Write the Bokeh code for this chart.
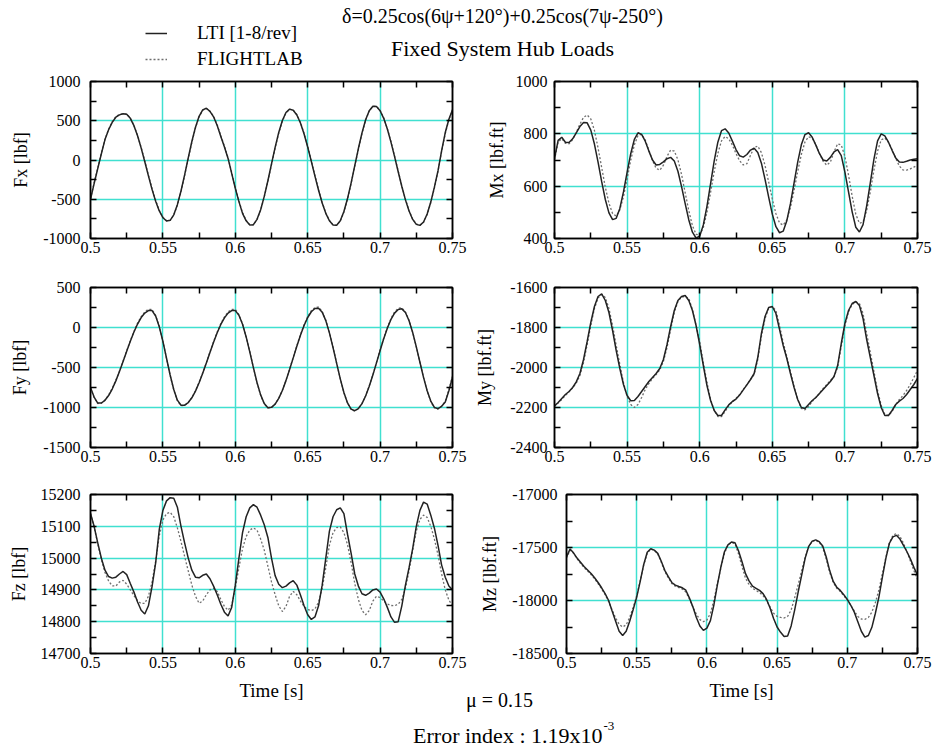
import numpy as np
from bokeh.plotting import figure
from bokeh.layouts import column, row
from bokeh.models import (Range1d, LinearAxis, SingleIntervalTicker, CustomJSTickFormatter,
                          Label, Legend, LegendItem, Grid)
from bokeh.embed import file_html
from bokeh.resources import INLINE

# ---------------- data ----------------
t = np.round(np.linspace(0.5, 0.75, 101), 5)    # time [s], 0.0025 s sampling

fx_lti = [-500, -300, -110, 80, 260, 385, 480, 545, 575, 588,
          582, 531, 437, 308, 151, -23, -202, -374, -526, -649,
          -735, -776, -768, -698, -569, -395, -190, 27, 236, 418,
          557, 639, 659, 620, 550, 440, 300, 165, 20, -170,
          -360, -530, -680, -775, -828, -824, -756, -633, -464, -264,
          -49, 161, 351, 503, 605, 648, 634, 574, 471, 331,
          166, -17, -205, -385, -547, -679, -774, -827, -830, -773,
          -657, -491, -291, -72, 146, 346, 512, 628, 685, 681,
          628, 531, 394, 228, 43, -150, -337, -508, -650, -757,
          -820, -833, -790, -688, -536, -346, -136, 120, 350, 520,
          640]
fx_fl = [-495, -292, -100, 88, 265, 392, 490, 552, 580, 590,
         585, 535, 440, 314, 160, -12, -190, -362, -515, -640,
         -730, -774, -770, -703, -575, -403, -200, 15, 225, 408,
         550, 634, 655, 622, 555, 448, 310, 175, 30, -160,
         -350, -520, -670, -768, -825, -826, -760, -640, -470, -272,
         -60, 150, 340, 495, 600, 646, 636, 580, 478, 340,
         175, -8, -195, -376, -540, -675, -770, -826, -832, -778,
         -665, -500, -300, -82, 135, 336, 505, 624, 682, 683,
         632, 537, 400, 236, 52, -140, -328, -500, -642, -752,
         -815, -833, -795, -695, -545, -356, -145, 110, 335, 510,
         632]

fy_lti = [-750, -870, -945, -944, -910, -851, -769, -667, -551, -426,
          -298, -173, -57, 43, 124, 181, 211, 211, 144, 9,
          -174, -384, -594, -775, -908, -972, -971, -938, -879, -795,
          -691, -572, -444, -312, -184, -65, 38, 120, 180, 211,
          211, 154, 41, -118, -304, -501, -687, -842, -951, -1003,
          -998, -958, -886, -787, -664, -526, -380, -235, -97, 25,
          125, 197, 237, 242, 192, 86, -67, -251, -449, -642,
          -813, -943, -1020, -1040, -1013, -951, -856, -735, -595, -442,
          -288, -140, -8, 101, 180, 226, 233, 187, 85, -62,
          -242, -434, -624, -790, -919, -998, -1015, -985, -930, -790,
          -620]
fy_fl = [-760, -875, -950, -948, -905, -845, -760, -660, -545, -420,
         -290, -165, -50, 55, 135, 195, 228, 225, 150, 15,
         -170, -385, -600, -780, -915, -976, -975, -940, -875, -790,
         -685, -565, -440, -305, -175, -55, 50, 132, 195, 225,
         225, 162, 45, -115, -300, -502, -690, -848, -955, -1006,
         -1000, -958, -885, -784, -660, -520, -375, -228, -90, 35,
         135, 210, 250, 256, 200, 92, -60, -246, -445, -640,
         -815, -946, -1025, -1045, -1015, -950, -852, -730, -590, -436,
         -280, -132, 0, 112, 195, 240, 245, 195, 90, -60,
         -240, -435, -625, -795, -925, -1005, -1020, -980, -925, -780,
         -600]

mx_lti = [705, 775, 787, 768, 767, 781, 804, 828, 843, 842,
          814, 761, 692, 617, 549, 498, 472, 477, 515, 578,
          653, 724, 779, 804, 798, 772, 734, 700, 681, 683,
          693, 705, 710, 696, 657, 598, 533, 471, 424, 402,
          409, 452, 523, 610, 697, 768, 812, 819, 803, 772,
          740, 716, 711, 721, 738, 745, 729, 688, 626, 558,
          493, 445, 422, 428, 468, 533, 613, 692, 758, 797,
          804, 787, 757, 724, 700, 696, 710, 731, 740, 717,
          654, 578, 502, 443, 425, 453, 525, 613, 703, 773,
          800, 792, 768, 737, 708, 692, 691, 695, 700, 703,
          705]
mx_fl = [700, 769, 781, 764, 762, 778, 806, 837, 863, 872,
         857, 813, 746, 671, 596, 535, 495, 486, 509, 560,
         628, 699, 758, 794, 798, 776, 738, 698, 668, 661,
         680, 714, 738, 734, 701, 645, 575, 506, 449, 416,
         413, 442, 500, 576, 656, 725, 773, 790, 781, 757,
         725, 697, 681, 686, 718, 748, 753, 728, 679, 616,
         551, 495, 459, 451, 471, 519, 584, 656, 721, 769,
         789, 783, 758, 725, 695, 680, 692, 731, 762, 757,
         714, 642, 562, 493, 458, 463, 507, 578, 661, 734,
         777, 784, 768, 739, 706, 677, 662, 661, 666, 673,
         680]

my_lti = [-2192, -2175, -2155, -2135, -2120, -2100, -2072, -2030, -1960, -1870,
          -1775, -1695, -1645, -1632, -1665, -1725, -1815, -1915, -2005, -2085,
          -2140, -2166, -2165, -2145, -2120, -2095, -2070, -2050, -2030, -2005,
          -1960, -1885, -1795, -1715, -1665, -1645, -1640, -1665, -1715, -1790,
          -1885, -1990, -2090, -2165, -2215, -2240, -2240, -2212, -2187, -2170,
          -2158, -2138, -2112, -2087, -2060, -2030, -1950, -1830, -1745, -1700,
          -1695, -1730, -1810, -1890, -1955, -2030, -2100, -2160, -2200, -2205,
          -2185, -2165, -2150, -2130, -2110, -2090, -2070, -2045, -1990, -1880,
          -1780, -1715, -1680, -1670, -1690, -1755, -1860, -1950, -2040, -2130,
          -2200, -2240, -2240, -2215, -2185, -2168, -2155, -2135, -2110, -2085,
          -2055]
my_fl = [-2195, -2178, -2160, -2140, -2122, -2102, -2078, -2040, -1975, -1885,
         -1790, -1705, -1652, -1635, -1650, -1705, -1790, -1890, -1985, -2075,
         -2145, -2185, -2200, -2185, -2150, -2110, -2080, -2055, -2035, -2012,
         -1970, -1900, -1810, -1725, -1670, -1648, -1645, -1655, -1710, -1790,
         -1870, -1975, -2075, -2160, -2215, -2245, -2245, -2220, -2192, -2172,
         -2155, -2135, -2110, -2085, -2060, -2035, -1960, -1845, -1755, -1705,
         -1695, -1715, -1790, -1875, -1945, -2020, -2095, -2160, -2205, -2212,
         -2195, -2170, -2150, -2128, -2105, -2085, -2065, -2045, -2000, -1895,
         -1790, -1722, -1685, -1672, -1680, -1730, -1830, -1925, -2020, -2115,
         -2190, -2235, -2240, -2220, -2185, -2160, -2140, -2115, -2085, -2050,
         -2015]

fz_lti = [15140, 15100, 15048, 15000, 14962, 14942, 14937, 14940, 14950, 14958,
          14948, 14920, 14893, 14862, 14836, 14824, 14850, 14910, 14985, 15090,
          15150, 15180, 15190, 15188, 15160, 15100, 15048, 15000, 14962, 14940,
          14938, 14946, 14950, 14935, 14912, 14885, 14855, 14830, 14818, 14845,
          14915, 15000, 15080, 15130, 15158, 15168, 15160, 15135, 15105, 15065,
          15000, 14945, 14918, 14907, 14912, 14922, 14929, 14915, 14884, 14850,
          14822, 14807, 14815, 14850, 14915, 15000, 15085, 15130, 15152, 15158,
          15140, 15075, 15015, 14950, 14912, 14888, 14883, 14890, 14900, 14903,
          14893, 14872, 14845, 14815, 14798, 14800, 14850, 14915, 14970, 15030,
          15100, 15150, 15176, 15170, 15135, 15094, 15040, 14978, 14940, 14912,
          14900]
fz_fl = [15140, 15098, 15045, 14995, 14955, 14928, 14913, 14912, 14925, 14930,
         14918, 14900, 14882, 14866, 14857, 14858, 14880, 14925, 14990, 15070,
         15120, 15140, 15144, 15130, 15095, 15052, 15005, 14960, 14915, 14880,
         14858, 14865, 14885, 14900, 14905, 14895, 14870, 14848, 14836, 14852,
         14905, 14970, 15030, 15068, 15088, 15095, 15088, 15060, 15025, 14975,
         14925, 14885, 14850, 14832, 14848, 14880, 14895, 14885, 14865, 14848,
         14838, 14835, 14840, 14862, 14905, 14970, 15040, 15080, 15096, 15098,
         15080, 15042, 14985, 14920, 14870, 14835, 14822, 14835, 14865, 14880,
         14876, 14865, 14856, 14851, 14850, 14855, 14870, 14905, 14960, 15025,
         15085, 15122, 15135, 15128, 15100, 15060, 15010, 14950, 14900, 14868,
         14850]

mz_lti = [-17590, -17515, -17550, -17600, -17640, -17680, -17712, -17745, -17785, -17830,
          -17880, -17935, -18000, -18100, -18195, -18290, -18330, -18290, -18195, -18085,
          -17968, -17820, -17660, -17545, -17512, -17525, -17555, -17630, -17715, -17775,
          -17830, -17855, -17868, -17880, -17903, -17975, -18060, -18160, -18240, -18282,
          -18260, -18190, -18040, -17850, -17680, -17540, -17475, -17448, -17455, -17530,
          -17635, -17747, -17815, -17865, -17885, -17905, -17935, -17990, -18070, -18170,
          -18250, -18300, -18340, -18335, -18240, -18090, -17920, -17760, -17600, -17490,
          -17440, -17428, -17445, -17485, -17590, -17720, -17820, -17875, -17905, -17945,
          -17990, -18045, -18110, -18200, -18290, -18345, -18330, -18253, -18120, -17968,
          -17780, -17600, -17460, -17400, -17385, -17420, -17480, -17540, -17610, -17690,
          -17760]
mz_fl = [-17600, -17525, -17555, -17605, -17650, -17690, -17722, -17755, -17795, -17840,
         -17890, -17945, -18010, -18090, -18165, -18225, -18250, -18230, -18160, -18065,
         -17955, -17815, -17665, -17555, -17515, -17525, -17560, -17640, -17725, -17785,
         -17840, -17865, -17878, -17892, -17920, -17985, -18060, -18130, -18180, -18200,
         -18185, -18120, -17995, -17840, -17690, -17555, -17480, -17452, -17465, -17560,
         -17680, -17790, -17850, -17885, -17905, -17925, -17955, -18000, -18060, -18120,
         -18150, -18160, -18165, -18150, -18090, -17975, -17850, -17720, -17590, -17490,
         -17445, -17432, -17450, -17500, -17610, -17735, -17830, -17885, -17915, -17955,
         -17995, -18045, -18100, -18150, -18175, -18178, -18160, -18110, -18020, -17900,
         -17745, -17590, -17455, -17385, -17368, -17395, -17460, -17540, -17630, -17720,
         -17800]

# ---------------- styling ----------------
FONT = "Liberation Serif"
GRID = "#40E0D0"
LTI_COLOR = "#222222"
FL_COLOR = "#6e6e6e"

XFMT = "var s = tick.toFixed(2); if (s.slice(-1) === '0') { s = s.slice(0, -1); } return s;"
YFMT = "return String(Math.round(tick));"
NOFMT = "return '';"


def style_axis(ax, show_labels, standoff):
    ax.axis_line_color = "black"
    ax.axis_line_width = 1.5
    ax.major_tick_in = 0
    ax.major_tick_out = 0
    ax.minor_tick_in = 6
    ax.minor_tick_out = 0
    ax.minor_tick_line_color = "black"
    ax.minor_tick_line_width = 1.5
    ax.major_label_text_font = FONT
    if show_labels:
        ax.major_label_text_color = "black"
        ax.major_label_text_font_size = "16px"
    else:
        ax.major_label_text_color = None
        ax.major_label_text_font_size = "1px"
    ax.major_label_standoff = standoff


def panel(lti, fl, ylabel, yrange, yint, width, height, bl, br, bt, bb,
          ystand, ylab_stand):
    p = figure(width=width, height=height, x_range=Range1d(0.5, 0.75),
               y_range=Range1d(*yrange), output_backend="svg", toolbar_location=None,
               x_axis_type=None, y_axis_type=None,
               min_border_left=bl, min_border_right=br, min_border_top=bt, min_border_bottom=bb)
    p.outline_line_color = "black"
    p.outline_line_width = 1.5

    xt = SingleIntervalTicker(interval=0.05, num_minor_ticks=2)
    yt = SingleIntervalTicker(interval=yint, num_minor_ticks=2)

    p.add_layout(Grid(dimension=0, ticker=xt, grid_line_color=GRID, grid_line_width=1.5))
    p.add_layout(Grid(dimension=1, ticker=yt, grid_line_color=GRID, grid_line_width=1.5))

    xb = LinearAxis(ticker=xt, formatter=CustomJSTickFormatter(code=XFMT))
    style_axis(xb, True, 3)
    p.add_layout(xb, "below")
    xa = LinearAxis(ticker=xt, formatter=CustomJSTickFormatter(code=NOFMT))
    style_axis(xa, False, 0)
    p.add_layout(xa, "above")

    yl = LinearAxis(ticker=yt, formatter=CustomJSTickFormatter(code=YFMT))
    style_axis(yl, True, ystand)
    yl.axis_label = ylabel
    yl.axis_label_text_font = FONT
    yl.axis_label_text_font_style = "normal"
    yl.axis_label_text_font_size = "18px"
    yl.axis_label_text_color = "black"
    yl.axis_label_standoff = ylab_stand
    p.add_layout(yl, "left")
    yr = LinearAxis(ticker=yt, formatter=CustomJSTickFormatter(code=NOFMT))
    style_axis(yr, False, 0)
    p.add_layout(yr, "right")

    p.line(t, fl, line_color=FL_COLOR, line_width=1.3, line_dash="2 2")
    p.line(t, lti, line_color=LTI_COLOR, line_width=1.5)
    return p


# row 1
p_fx = panel(fx_lti, fx_fl, "Fx [lbf]", (-1000, 1000), 500, 470, 202, 90, 18, 11, 34, 10, 9)
p_mx = panel(mx_lti, mx_fl, "Mx [lbf.ft]", (400, 1000), 200, 471, 202, 84, 24, 11, 34, 7, 6)
# row 2
p_fy = panel(fy_lti, fy_fl, "Fy [lbf]", (-1500, 500), 500, 470, 208, 90, 18, 15, 33, 10, 10)
p_my = panel(my_lti, my_fl, "My [lbf.ft]", (-2400, -1600), 200, 471, 208, 84, 24, 15, 33, 7, 12)
# row 3
p_fz = panel(fz_lti, fz_fl, "Fz [lbf]", (14700, 15200), 100, 470, 200, 90, 18, 14, 27, 10, 9)
p_mz = panel(mz_lti, mz_fl, "Mz [lbf.ft]", (-18500, -17000), 500, 471, 200, 96, 24, 14, 27, 9, 9)

# header: titles + legend
HH = 70
hdr = figure(width=941, height=HH, x_range=Range1d(0, 941), y_range=Range1d(HH, 0),
             output_backend="svg", toolbar_location=None, x_axis_type=None, y_axis_type=None,
             min_border=0, outline_line_color=None)
hdr.add_layout(Label(x=502, y=15, text="\u03b4=0.25cos(6\u03c8+120\u00b0)+0.25cos(7\u03c8-250\u00b0)",
                     text_align="center", text_baseline="middle", text_font=FONT,
                     text_font_size="20px", text_color="black"))
hdr.add_layout(Label(x=502, y=48, text="Fixed System Hub Loads",
                     text_align="center", text_baseline="middle", text_font=FONT,
                     text_font_size="22px", text_color="black"))
r_lti = hdr.line(x=[-60, -40], y=[-50, -50], line_color=LTI_COLOR, line_width=1.5)
r_fl = hdr.line(x=[-60, -40], y=[-50, -50], line_color=FL_COLOR, line_width=1.3, line_dash="2 2")
legend = Legend(items=[LegendItem(label="LTI [1-8/rev]", renderers=[r_lti]),
                       LegendItem(label="FLIGHTLAB", renderers=[r_fl])],
                location=(145, 0), orientation="vertical", border_line_color=None,
                background_fill_alpha=0, glyph_width=22, glyph_height=20, label_height=20,
                label_standoff=30, spacing=4, padding=0, margin=0,
                label_text_font=FONT, label_text_font_size="19px", label_text_color="black")
hdr.add_layout(legend)

# footer: time labels, mu and error index
FH = 68
ftr = figure(width=941, height=FH, x_range=Range1d(0, 941), y_range=Range1d(FH, 0),
             output_backend="svg", toolbar_location=None, x_axis_type=None, y_axis_type=None,
             min_border=0, outline_line_color=None)
for xc in (271, 741):
    ftr.add_layout(Label(x=xc, y=10, text="Time [s]", text_align="center", text_baseline="middle",
                         text_font=FONT, text_font_size="19px", text_color="black"))
ftr.add_layout(Label(x=499, y=19, text="\u03bc = 0.15", text_align="center", text_baseline="middle",
                     text_font=FONT, text_font_size="20px", text_color="black"))
ftr.add_layout(Label(x=602, y=55, text="Error index : 1.19x10", text_align="right",
                     text_baseline="middle", text_font=FONT, text_font_size="22px",
                     text_color="black"))
ftr.add_layout(Label(x=603, y=45, text="-3", text_align="left", text_baseline="middle",
                     text_font=FONT, text_font_size="13px", text_color="black"))

layout = column(hdr, row(p_fx, p_mx), row(p_fy, p_my), row(p_fz, p_mz), ftr)

open("out.html", "w").write(file_html(layout, INLINE))
